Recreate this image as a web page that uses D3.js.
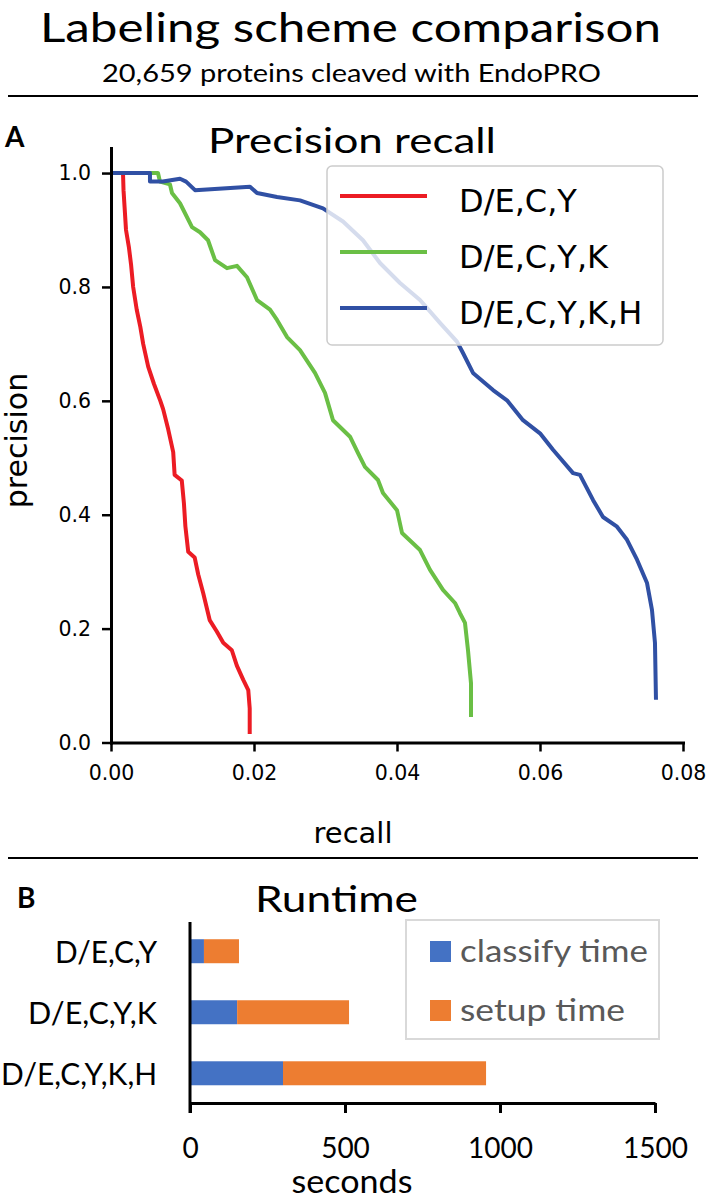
<!DOCTYPE html>
<html><head><meta charset="utf-8">
<script src="https://cdn.jsdelivr.net/npm/d3@7"></script>
<style>html,body{margin:0;padding:0;background:#fff;} svg{display:block}</style>
</head><body>
<script>
// ---------- DATA ----------
const seriesNames = ["D/E,C,Y", "D/E,C,Y,K", "D/E,C,Y,K,H"];
const seriesColors = ["#ec1c24", "#6abf45", "#3050a4"];

const recallDECY = [0.00168,0.00175,0.0019,0.0021,0.0025,0.0028,0.0031,0.0036,0.0041,0.0045,0.0052,0.0060,0.0069,0.0073,0.0080,0.0087,0.0089,0.0099,0.0102,0.0104,0.0108,0.0117,0.0122,0.0129,0.0138,0.0148,0.0157,0.0169,0.0176,0.0185,0.0192,0.0194,0.0194];
const precisionDECY = [1.0,0.97,0.94,0.9,0.87,0.84,0.8,0.76,0.73,0.7,0.66,0.63,0.6,0.585,0.55,0.51,0.47,0.46,0.42,0.38,0.335,0.325,0.295,0.262,0.215,0.195,0.175,0.162,0.135,0.11,0.092,0.06,0.015];

const recallDECYK = [0,0.00657,0.00685,0.00825,0.00853,0.00965,0.01133,0.01245,0.01357,0.01455,0.01622,0.01762,0.01902,0.02042,0.02224,0.02322,0.02462,0.02643,0.02853,0.02993,0.03105,0.03343,0.03455,0.03552,0.03734,0.03804,0.0400,0.0407,0.04322,0.04462,0.04643,0.04811,0.04881,0.04951,0.04993,0.05035,0.05035];
const precisionDECYK = [1.0,1.0,0.985,0.98,0.965,0.947,0.905,0.896,0.882,0.847,0.833,0.837,0.817,0.777,0.76,0.742,0.712,0.689,0.649,0.614,0.566,0.537,0.508,0.484,0.461,0.438,0.408,0.368,0.338,0.303,0.268,0.245,0.227,0.21,0.162,0.104,0.045];

const recallDECYKH = [0,0.00545,0.00545,0.00727,0.00965,0.0105,0.01175,0.01944,0.02042,0.02322,0.02643,0.02965,0.03245,0.03524,0.03762,0.04042,0.04322,0.04601,0.04839,0.04923,0.05063,0.05343,0.05538,0.05762,0.0600,0.06182,0.06462,0.06559,0.06741,0.06881,0.07077,0.07217,0.07357,0.07497,0.07566,0.07608,0.07622];
const precisionDECYKH = [1.0,1.0,0.985,0.985,0.99,0.985,0.97,0.976,0.965,0.958,0.952,0.938,0.915,0.882,0.842,0.807,0.777,0.737,0.704,0.684,0.649,0.619,0.601,0.566,0.543,0.514,0.473,0.47,0.426,0.396,0.379,0.356,0.321,0.28,0.233,0.175,0.075];

const xTicksA = [0, 0.02, 0.04, 0.06, 0.08];
const yTicksA = [0, 0.2, 0.4, 0.6, 0.8, 1.0];

const runtimeCategories = ["D/E,C,Y", "D/E,C,Y,K", "D/E,C,Y,K,H"];
const classifyTime = [45, 152, 300];
const setupTime = [113, 361, 655];
const runtimeKeys = ["classify time", "setup time"];
const runtimeColors = ["#4472c4", "#ed7d31"];
const xTicksB = [0, 500, 1000, 1500];

// ---------- DRAW ----------
const W = 707, H = 1199;
const svg = d3.select("body").append("svg").attr("width", W).attr("height", H);
const DJ = "DejaVu Sans", LT = "Lato";

function txt(x, y, s, o = {}) {
  const t = svg.append("text").attr("x", x).attr("y", y).text(s)
    .attr("font-family", o.family || LT).attr("font-size", o.size || 20)
    .attr("text-anchor", o.anchor || "start").attr("fill", o.fill || "#000");
  if (o.weight) t.attr("font-weight", o.weight);
  if (o.len) t.attr("textLength", o.len).attr("lengthAdjust", "spacingAndGlyphs");
  if (o.transform) t.attr("transform", o.transform);
  return t;
}

// Header
txt(350.5, 41.5, "Labeling scheme comparison", {size: 41, anchor: "middle", len: 621});
txt(351.5, 82, "20,659 proteins cleaved with EndoPRO", {size: 25, anchor: "middle", len: 499});
svg.append("line").attr("x1", 8).attr("x2", 698).attr("y1", 96).attr("y2", 96).attr("stroke", "#000").attr("stroke-width", 2);

// Panel A
txt(5, 147, "A", {size: 28, weight: "bold"});
txt(352, 153, "Precision recall", {size: 35, anchor: "middle", len: 288});

const xA = d3.scaleLinear([0, 0.08], [111, 683]);
const yA = d3.scaleLinear([0, 1.044], [742.5, 148]);

const gA = svg.append("g");
const seriesData = [
  d3.zip(recallDECY, precisionDECY),
  d3.zip(recallDECYK, precisionDECYK),
  d3.zip(recallDECYKH, precisionDECYKH)
];
const line = d3.line().x(d => xA(d[0])).y(d => yA(d[1]));
seriesData.forEach((d, i) => {
  gA.append("path").attr("d", line(d)).attr("fill", "none")
    .attr("stroke", seriesColors[i]).attr("stroke-width", 4)
    .attr("stroke-linejoin", "round");
});

const axXA = svg.append("g").attr("transform", "translate(0,742.5)")
  .call(d3.axisBottom(xA).tickValues(xTicksA).tickFormat(d3.format(".2f")).tickSize(9).tickSizeOuter(0).tickPadding(14));
const axYA = svg.append("g").attr("transform", "translate(111,0)")
  .call(d3.axisLeft(yA).tickValues(yTicksA).tickFormat(d3.format(".1f")).tickSize(9).tickSizeOuter(0).tickPadding(11));
[axXA, axYA].forEach(a => {
  a.attr("font-family", DJ).attr("font-size", 20.5);
  a.select(".domain").attr("stroke-width", 3).attr("stroke-linecap", "square");
  a.selectAll(".tick line").attr("stroke-width", 2.5);
  a.selectAll(".tick text").attr("fill", "#000");
});

txt(27, 440.5, "precision", {family: DJ, size: 30, anchor: "middle", transform: "rotate(-90,27,440.5)"});
txt(353, 843, "recall", {family: DJ, size: 29, anchor: "middle"});

// Legend A
const legA = svg.append("g");
legA.append("rect").attr("x", 327).attr("y", 166).attr("width", 336).attr("height", 179).attr("rx", 5)
  .attr("fill", "#fff").attr("fill-opacity", 0.8).attr("stroke", "#cccccc").attr("stroke-width", 1.5);
const legAY = [196, 252, 308];
seriesNames.forEach((n, i) => {
  legA.append("line").attr("x1", 340).attr("x2", 427).attr("y1", legAY[i]).attr("y2", legAY[i])
    .attr("stroke", seriesColors[i]).attr("stroke-width", 4);
  legA.append("text").attr("x", 459).attr("y", legAY[i] + 15.5).text(n)
    .attr("font-family", DJ).attr("font-size", 32).attr("fill", "#000");
});

svg.append("line").attr("x1", 8).attr("x2", 698).attr("y1", 858).attr("y2", 858).attr("stroke", "#000").attr("stroke-width", 2);

// Panel B
txt(17, 908, "B", {size: 28, weight: "bold"});
txt(336.5, 912, "Runtime", {size: 36, anchor: "middle", len: 163});

const xB = d3.scaleLinear([0, 1500], [190, 655]);
const yB = d3.scaleBand(runtimeCategories, [920.5, 1104]).paddingInner(0.607).paddingOuter(0.307);

const table = runtimeCategories.map((c, i) => ({cat: c, "classify time": classifyTime[i], "setup time": setupTime[i]}));
const stacked = d3.stack().keys(runtimeKeys)(table);
stacked.forEach((s, k) => {
  svg.append("g").selectAll("rect").data(s).join("rect")
    .attr("x", d => xB(d[0])).attr("width", d => xB(d[1]) - xB(d[0]))
    .attr("y", d => yB(d.data.cat)).attr("height", yB.bandwidth())
    .attr("fill", runtimeColors[k]);
});

const axXB = svg.append("g").attr("transform", "translate(0,1103)")
  .call(d3.axisBottom(xB).tickValues(xTicksB).tickFormat(d3.format("d")).tickSize(10).tickSizeOuter(0).tickPadding(25));
const axYB = svg.append("g").attr("transform", "translate(190,0)")
  .call(d3.axisLeft(yB).tickSize(0).tickSizeOuter(0).tickPadding(33));
[axXB, axYB].forEach(a => {
  a.attr("font-family", LT).attr("font-size", 28);
  a.select(".domain").attr("stroke-width", 3);
  a.selectAll(".tick line").attr("stroke-width", 3);
  a.selectAll(".tick text").attr("fill", "#000");
});
const catLens = [102, 129, 156];
axYB.selectAll(".tick text").attr("dy", "0.38em").attr("font-size", 30)
  .attr("textLength", (d, i) => catLens[i]).attr("lengthAdjust", "spacingAndGlyphs");
axYB.select(".domain").attr("d", "M0,922V1113");

txt(352, 1193, "seconds", {size: 32, anchor: "middle", len: 121});

// Legend B
const legB = svg.append("g");
legB.append("rect").attr("x", 406).attr("y", 920).attr("width", 253).attr("height", 119)
  .attr("fill", "#fff").attr("stroke", "#d9d9d9").attr("stroke-width", 2);
const legBY = [941, 1000];
const legBLen = [188, 165];
runtimeKeys.forEach((k, i) => {
  legB.append("rect").attr("x", 430).attr("y", legBY[i]).attr("width", 21).attr("height", 21).attr("fill", runtimeColors[i]);
  legB.append("text").attr("x", 460).attr("y", legBY[i] + 21).text(k)
    .attr("font-family", LT).attr("font-size", 31).attr("fill", "#595959")
    .attr("textLength", legBLen[i]).attr("lengthAdjust", "spacingAndGlyphs");
});
</script>
</body></html>
